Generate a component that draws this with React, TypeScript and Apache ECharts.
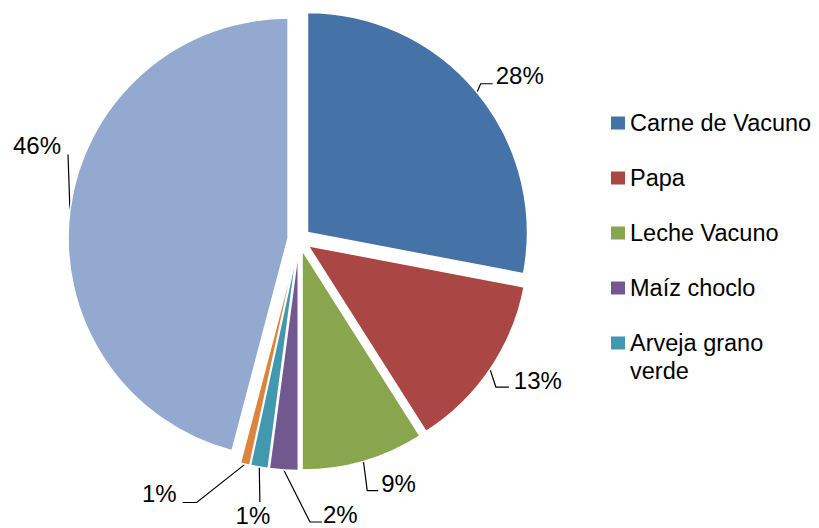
import React, { useEffect, useRef } from 'react';
import * as echarts from 'echarts';

const categories = ['Carne de Vacuno', 'Papa', 'Leche Vacuno', 'Maíz choclo', 'Arveja grano verde', 'Otros', 'Resto'];
const values = [28, 13, 9, 2.1, 1.3, 0.7, 45.9];
const colors = ['#4572A7', '#AA4643', '#89A54E', '#71588F', '#4198AF', '#DB843D', '#93A9CF'];
const legendItems = categories.slice(0, 5);

// leader-line bend/end and text anchor, relative to the line's start on the (exploded) slice edge
const labelPlacement: { bend: number[]; end: number[]; text: number[]; align: string }[] = [
  { bend: [3.7, -8.5], end: [15.7, -8.5], text: [18.7, -16.5], align: 'left' },
  { bend: [5.8, 17.7], end: [18.8, 17.7], text: [23.8, 10.7], align: 'left' },
  { bend: [3.8, 29.2], end: [14.8, 29.2], text: [17.8, 22.2], align: 'left' },
  { bend: [26.2, 52], end: [38.2, 52], text: [39.2, 45], align: 'left' },
  { bend: [0.6, 35], end: [0.6, 35], text: [-6.4, 48], align: 'center' },
  { bend: [-48.4, 38.4], end: [-62.4, 38.4], text: [-68.4, 29.4], align: 'right' },
  { bend: [-1.9, -55.4], end: [-1.9, -55.4], text: [-8.9, -64.4], align: 'right' },
];

const FONT = 'Liberation Sans, Arial, sans-serif';
const CX = 299;
const CY = 239.5;
const R = 220;
const EXPLODE = 11;

export default function App() {
  const ref = useRef<HTMLDivElement>(null);
  useEffect(() => {
    if (!ref.current) return;
    const chart = echarts.init(ref.current, undefined, { renderer: 'svg' });
    const common = {
      type: 'pie',
      center: [CX, CY],
      radius: R,
      startAngle: 90,
      clockwise: true,
      percentPrecision: 0,
      avoidLabelOverlap: false,
      emphasis: { disabled: true },
    };
    chart.setOption({
      animation: false,
      backgroundColor: '#ffffff',
      legend: {
        orient: 'vertical',
        left: 611,
        top: 110,
        padding: 0,
        itemGap: 29,
        itemWidth: 14,
        itemHeight: 13,
        icon: 'rect',
        data: legendItems,
        selectedMode: false,
        itemStyle: { borderWidth: 0 },
        formatter: (name: string) => (name === 'Arveja grano verde' ? 'Arveja grano' : name),
        textStyle: { fontSize: 23.5, fontFamily: FONT, color: '#000', lineHeight: 26, padding: [0, 0, 0, 0] },
      },
      graphic: [
        {
          type: 'text',
          x: 630,
          y: 371,
          style: { text: 'verde', fontSize: 23.5, fontFamily: FONT, fill: '#000', verticalAlign: 'middle', align: 'left' },
        },
      ],
      series: [
        {
          ...common,
          name: 'slices',
          selectedMode: 'multiple',
          selectedOffset: EXPLODE,
          itemStyle: { borderColor: '#ffffff', borderWidth: 1.5 },
          label: { show: false },
          labelLine: { show: false },
          data: categories.map((name, i) => ({
            name,
            value: values[i],
            selected: true,
            itemStyle: { color: colors[i] },
          })),
        },
        {
          ...common,
          name: 'labels',
          silent: true,
          selectedMode: false,
          itemStyle: { color: 'rgba(0,0,0,0)', borderWidth: 0 },
          label: {
            show: true,
            position: 'outside',
            formatter: '{d}%',
            fontSize: 24,
            lineHeight: 24,
            fontFamily: FONT,
            color: '#000',
          },
          labelLine: { show: true, length: 10, length2: 10, lineStyle: { color: '#000', width: 1.2 } },
          labelLayout: (params: any) => {
            const pl = labelPlacement[params.dataIndex];
            const p = params.labelLinePoints ? params.labelLinePoints[0] : [CX, CY];
            const k = EXPLODE / R;
            const p0 = [p[0] + (p[0] - CX) * k, p[1] + (p[1] - CY) * k];
            return {
              x: p0[0] + pl.text[0],
              y: p0[1] + pl.text[1],
              align: pl.align,
              verticalAlign: 'middle',
              labelLinePoints: [
                [p0[0], p0[1]],
                [p0[0] + pl.bend[0], p0[1] + pl.bend[1]],
                [p0[0] + pl.end[0], p0[1] + pl.end[1]],
              ],
            };
          },
          data: categories.map((name, i) => ({ name, value: values[i] })),
        },
      ],
    });
    return () => chart.dispose();
  }, []);
  return <div ref={ref} style={{ position: 'fixed', left: 0, top: 0, width: 819, height: 528 }} />;
}
